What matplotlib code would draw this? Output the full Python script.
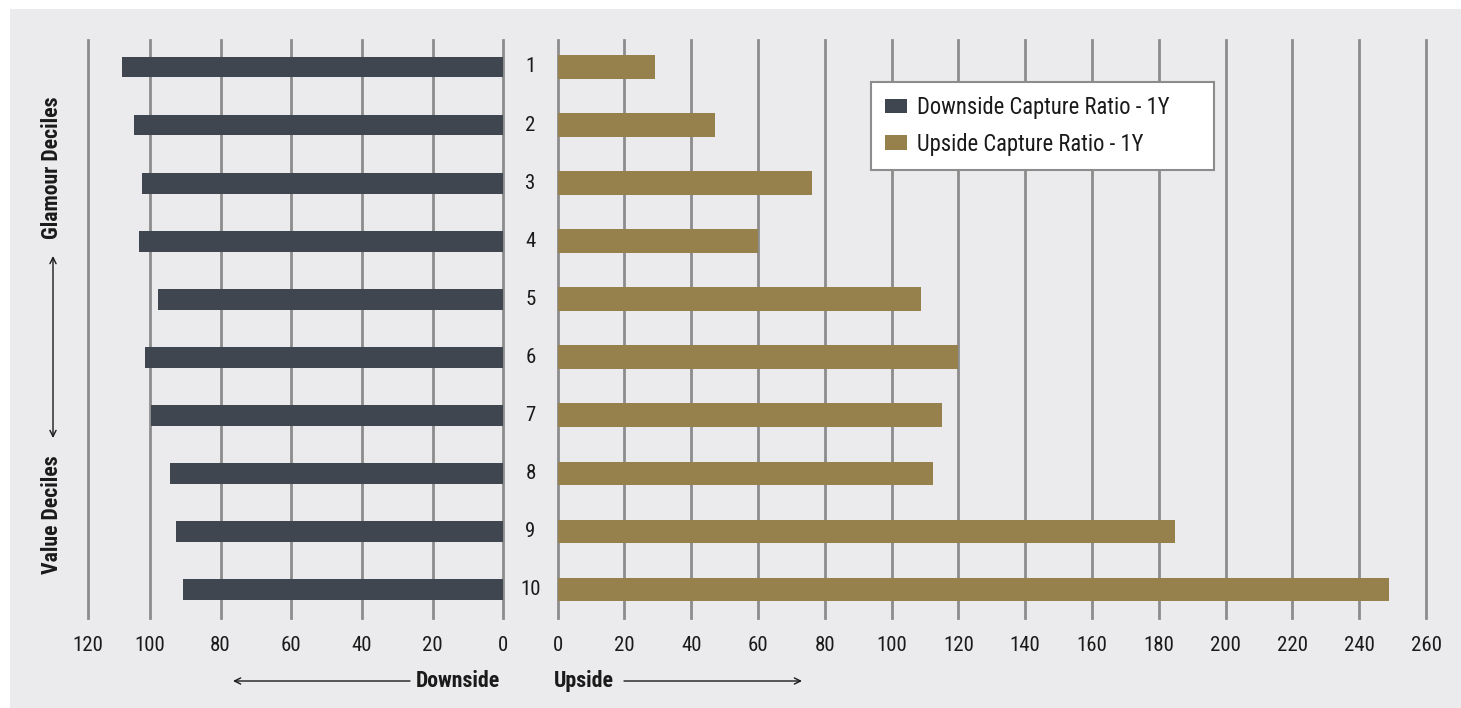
import matplotlib
matplotlib.use("Agg")
import matplotlib.pyplot as plt
from matplotlib.patches import Rectangle, Patch
from matplotlib.transforms import blended_transform_factory

plt.rcParams['font.family'] = ['Roboto Condensed', 'DejaVu Sans']

# capture ratios per decile (1 = glamour ... 10 = value)
deciles = [1, 2, 3, 4, 5, 6, 7, 8, 9, 10]
downside = [108.0, 104.6, 102.3, 103.2, 97.8, 101.5, 99.8, 94.4, 92.7, 90.7]
upside = [29.1, 47.1, 76.2, 60.0, 108.8, 119.8, 115.0, 112.4, 184.9, 248.9]

down_ticks = [117.5, 100, 80, 60, 40, 20, 0]
down_labels = ["120", "100", "80", "60", "40", "20", "0"]
up_ticks = list(range(0, 261, 20))

DARK = "#3f4650"
GOLD = "#96804b"
GRID = "#8c8c8c"
BG = "#ebebed"
TXT = "#1a1a1a"

W, H = 1461, 708
fig = plt.figure(figsize=(W / 100, H / 100), dpi=100, facecolor="white")
fig.patches.append(Rectangle((10 / W, 0), 1 - 10 / W, 1 - 9 / H,
                             transform=fig.transFigure, facecolor=BG,
                             edgecolor="none", zorder=-10))

bottom = 1 - 618 / H
height = (618 - 39.5) / H
axL = fig.add_axes([88 / W, bottom, (503.3 - 88) / W, height])
axR = fig.add_axes([557.7 / W, bottom, (1426 - 557.7) / W, height])

axL.barh(deciles, downside, height=0.36, color=DARK, zorder=3)
axR.barh(deciles, upside, height=0.41, color=GOLD, zorder=3)

axL.set_xlim(117.5, 0)
axR.set_xlim(0, 260)
axL.set_xticks(down_ticks, down_labels)
axR.set_xticks(up_ticks, [str(t) for t in up_ticks])

for ax in (axL, axR):
    ax.set_ylim(10.49, 0.527)
    ax.set_facecolor("none")
    ax.set_yticks([])
    for s in ax.spines.values():
        s.set_visible(False)
    ax.grid(axis="x", color=GRID, linewidth=2, zorder=1)
    ax.set_axisbelow(True)
    ax.tick_params(axis="x", length=0, pad=13, labelsize=15, labelcolor=TXT)
    for gl in ax.get_xgridlines():
        gl.set_clip_on(False)

# decile numbers in the gap between the two panels
tr = blended_transform_factory(fig.transFigure, axL.transData)
for d in deciles:
    axL.text(530.5 / W, d, str(d), transform=tr, ha="center", va="center",
             fontsize=15, color=TXT, clip_on=False)

axR.legend(handles=[Patch(facecolor=DARK, label="Downside Capture Ratio - 1Y"),
                    Patch(facecolor=GOLD, label="Upside Capture Ratio - 1Y")],
           loc="upper left", mode="expand",
           bbox_to_anchor=(871 / W, 1 - 163 / H, 343 / W, 81 / H),
           bbox_transform=fig.transFigure, borderaxespad=0, fontsize=16.3,
           frameon=True, fancybox=False, framealpha=1, edgecolor=GRID,
           facecolor="white", handlelength=0.98, handleheight=0.62,
           handletextpad=0.45, borderpad=0.62, labelspacing=0.6,
           labelcolor=TXT)
axR.get_legend().get_frame().set_linewidth(1.5)

# direction labels under the axes
fy = 1 - 681 / H
fig.text(500 / W, fy, "Downside", ha="right", va="center", fontsize=15.7,
         fontweight="bold", color=TXT)
fig.text(554 / W, fy, "Upside", ha="left", va="center", fontsize=15.7,
         fontweight="bold", color=TXT)
arrow = dict(arrowstyle="->", color=TXT, lw=1, mutation_scale=11,
             shrinkA=0, shrinkB=0)
fig.add_artist(plt.Annotation("", xy=(233 / W, fy), xytext=(410 / W, fy),
                              xycoords="figure fraction", arrowprops=arrow))
fig.add_artist(plt.Annotation("", xy=(802 / W, fy), xytext=(624 / W, fy),
                              xycoords="figure fraction", arrowprops=arrow))

# glamour / value direction on the left
fig.text(52.5 / W, 1 - 168 / H, "Glamour Deciles", rotation=90, ha="center",
         va="center", fontsize=15.7, fontweight="bold", color=TXT)
fig.text(52.5 / W, 1 - 515 / H, "Value Deciles", rotation=90, ha="center",
         va="center", fontsize=15.7, fontweight="bold", color=TXT)
arrow2 = dict(arrowstyle="<->", color=TXT, lw=1, mutation_scale=11,
              shrinkA=0, shrinkB=0)
fig.add_artist(plt.Annotation("", xy=(53 / W, 1 - 256 / H),
                              xytext=(53 / W, 1 - 438 / H),
                              xycoords="figure fraction", arrowprops=arrow2))

fig.savefig("out.png", dpi=100, facecolor="white")
